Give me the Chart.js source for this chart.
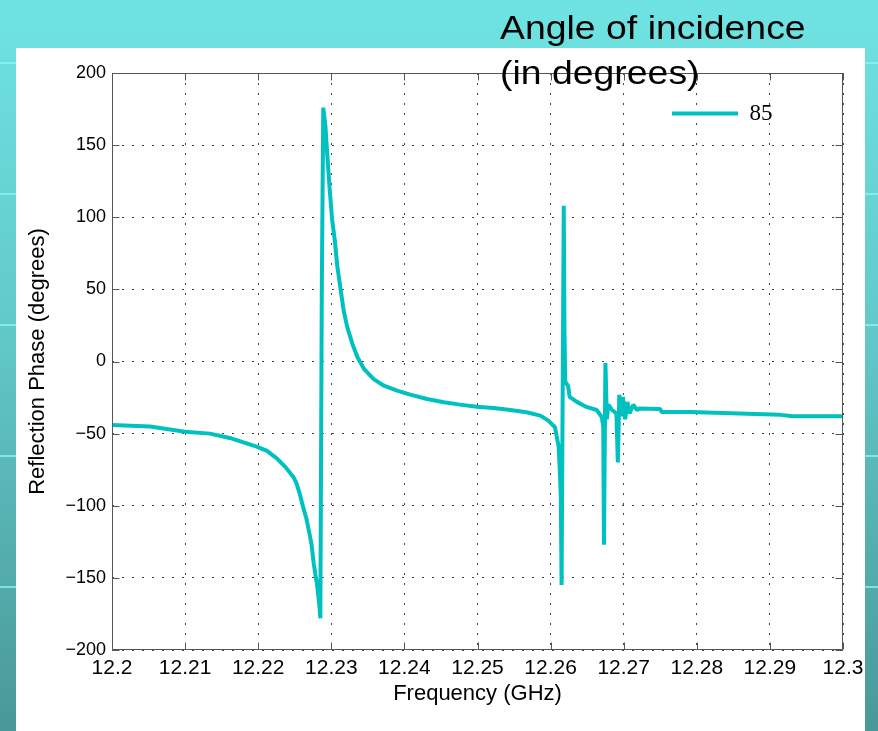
<html>
<head>
    <script src="https://cdn.jsdelivr.net/npm/chart.js@4.4.0/dist/chart.umd.min.js"></script>
    <style>
        body {
            margin: 0;
            width: 878px;
            height: 731px;
            overflow: hidden;
            position: relative;
            background: linear-gradient(to bottom, #6fe3e3 0%, #62c9c9 45%, #4a9898 100%);
        }

        .stripes {
            position: absolute;
            left: 0;
            top: 0;
            width: 878px;
            height: 731px;
            background: repeating-linear-gradient(to bottom, transparent 0px, transparent 129px, rgba(140, 245, 245, 0.75) 129px, rgba(140, 245, 245, 0.75) 131px);
            background-position: 0 -67px;
        }

        .panel {
            position: absolute;
            left: 16px;
            top: 48px;
            width: 849px;
            height: 683px;
            background: #fff;
        }

        .chartBox {
            position: absolute;
            left: 0;
            top: 0;
        }

        .heading {
            position: absolute;
            left: 500px;
            top: 5px;
            font-family: 'Liberation Sans', Arial, sans-serif;
            font-size: 34px;
            line-height: 45px;
            color: #000;
            white-space: nowrap;
            transform: scaleX(1.1);
            transform-origin: left top;
        }
    </style>
</head>

<body>
    <div class="stripes"></div>
    <div class="panel"></div>
    <div class="chartBox">
        <canvas id="myChart" width="878" height="731"></canvas>
    </div>
    <div class="heading">Angle of incidence<br>(in degrees)</div>
</body>
<script>
    // frequency (GHz) and reflection phase (degrees)
    const freqGHz = [
        12.2, 12.2052, 12.21, 12.2134, 12.2161, 12.2184, 12.2198, 12.2212, 12.2225, 12.2237,
        12.2248, 12.2252, 12.2257, 12.2262, 12.2266, 12.227, 12.2273, 12.2276, 12.2278, 12.228,
        12.2282, 12.2284, 12.2285, 12.2287, 12.2289, 12.2292, 12.22945, 12.2298, 12.2301, 12.2305,
        12.2308, 12.2313, 12.2317, 12.2322, 12.2329, 12.2336, 12.2345, 12.2358, 12.2372, 12.239,
        12.2408, 12.2431, 12.2454, 12.2476, 12.2499, 12.2522, 12.2545, 12.2567, 12.2586, 12.2597,
        12.2606, 12.2611, 12.2613, 12.2614, 12.2615, 12.2618, 12.2619, 12.262, 12.2624, 12.2626,
        12.2636, 12.2649, 12.2663, 12.267, 12.2672, 12.2673, 12.2675, 12.2677, 12.2679, 12.2684,
        12.269, 12.2692, 12.2694, 12.2697, 12.2699, 12.2702, 12.2705, 12.2708, 12.2713, 12.2718,
        12.2722, 12.275, 12.2752, 12.2791, 12.2914, 12.2932, 12.3
    ];
    const phase85 = [
        -44, -45, -48.7, -50, -53, -56.7, -59, -62, -67, -73,
        -80, -84, -92, -102, -109, -119, -127, -140, -147, -153,
        -161, -171, -178, 50, 176, 163, 143, 118, 99, 83,
        67, 49, 35, 23.5, 12, 2.8, -5.3, -12.2, -16.8, -20.2,
        -23, -26, -28.3, -29.9, -31.3, -32.2, -33.6, -35.2, -37.5, -41,
        -45.6, -59, -80, -94, -155, 108, 20, -14, -17, -24.5,
        -28, -31.5, -33.6, -38.5, -45, -127, -1, -40, -30, -33.6,
        -36, -70, -23, -38, -24.5, -40, -28, -36, -30, -33.6,
        -32.5, -33, -35, -35, -37, -38, -38
    ];
    const seriesLabel = '85';

    const xTicks = [12.2, 12.21, 12.22, 12.23, 12.24, 12.25, 12.26, 12.27, 12.28, 12.29, 12.3];
    const xTickLabels = ['12.2', '12.21', '12.22', '12.23', '12.24', '12.25', '12.26', '12.27', '12.28', '12.29', '12.3'];
    const yTicks = [-200, -150, -100, -50, 0, 50, 100, 150, 200];

    const sans = "'Liberation Sans', Arial, sans-serif";
    const lineColor = '#00c0c0';

    // matlab style box with inward tick marks
    const framePlugin = {
        id: 'frame',
        afterLayout(chart) {
            const lg = chart.legend;
            if (!lg) return;
            const w = lg.width, h = lg.height;
            lg.left = 672; lg.right = 672 + w;
            lg.top = 102; lg.bottom = 102 + h;
        },
        afterDraw(chart) {
            const { ctx, chartArea: a, scales: { x, y } } = chart;
            const L = Math.round(a.left) + 0.5, R = Math.round(a.right) - 0.5;
            const T = Math.round(a.top) + 0.5, B = Math.round(a.bottom) - 0.5;
            ctx.save();
            ctx.strokeStyle = '#555';
            ctx.lineWidth = 1;
            ctx.beginPath();
            ctx.rect(L, T, R - L, B - T);
            x.ticks.forEach(t => {
                const px = Math.round(x.getPixelForValue(t.value)) + 0.5;
                ctx.moveTo(px, T); ctx.lineTo(px, T + 7);
                ctx.moveTo(px, B); ctx.lineTo(px, B - 7);
            });
            y.ticks.forEach(t => {
                const py = Math.round(y.getPixelForValue(t.value)) + 0.5;
                ctx.moveTo(L, py); ctx.lineTo(L + 7, py);
                ctx.moveTo(R, py); ctx.lineTo(R - 7, py);
            });
            ctx.stroke();
            ctx.restore();
        }
    };

    new Chart('myChart', {
        type: 'line',
        data: {
            datasets: [{
                label: seriesLabel,
                data: freqGHz.map((f, i) => ({ x: f, y: phase85[i] })),
                borderColor: lineColor,
                backgroundColor: lineColor,
                borderWidth: 4,
                borderJoinStyle: 'bevel',
                pointRadius: 0,
                tension: 0,
                fill: false
            }]
        },
        options: {
            responsive: false,
            animation: false,
            layout: { padding: { left: 25, top: 73, right: 35, bottom: 21 } },
            scales: {
                x: {
                    type: 'linear',
                    min: 12.2,
                    max: 12.3,
                    afterBuildTicks: s => { s.ticks = xTicks.map(v => ({ value: v })); },
                    afterFit: s => { s.height = 60; },
                    grid: { color: '#444', lineWidth: 1, drawTicks: false },
                    border: { display: false, dash: [2, 8] },
                    ticks: {
                        color: '#000',
                        padding: 6,
                        maxRotation: 0,
                        autoSkip: false,
                        font: { family: sans, size: 21 },
                        callback: (v, i) => xTickLabels[i]
                    },
                    title: {
                        display: true,
                        text: 'Frequency (GHz)',
                        color: '#000',
                        font: { family: sans, size: 22 },
                        padding: { top: 0, bottom: 3 }
                    }
                },
                y: {
                    min: -200,
                    max: 200,
                    afterBuildTicks: s => { s.ticks = yTicks.map(v => ({ value: v })); },
                    afterFit: s => { s.width = 87; },
                    grid: { color: '#444', lineWidth: 1, drawTicks: false },
                    border: { display: false, dash: [2, 8] },
                    ticks: {
                        color: '#000',
                        padding: 6,
                        font: { family: sans, size: 18 },
                        callback: v => v < 0 ? '\u2212' + (-v) : String(v)
                    },
                    title: {
                        display: true,
                        text: 'Reflection Phase (degrees)',
                        color: '#000',
                        font: { family: sans, size: 22 },
                        padding: { top: 0, bottom: 0 }
                    }
                }
            },
            plugins: {
                legend: {
                    position: 'chartArea',
                    align: 'start',
                    labels: {
                        usePointStyle: true,
                        pointStyle: 'line',
                        pointStyleWidth: 66,
                        padding: 0,
                        color: '#000',
                        font: { family: "'Liberation Serif', 'Times New Roman', serif", size: 23 }
                    }
                },
                tooltip: { enabled: false }
            }
        },
        plugins: [framePlugin]
    });
</script>

</html>
